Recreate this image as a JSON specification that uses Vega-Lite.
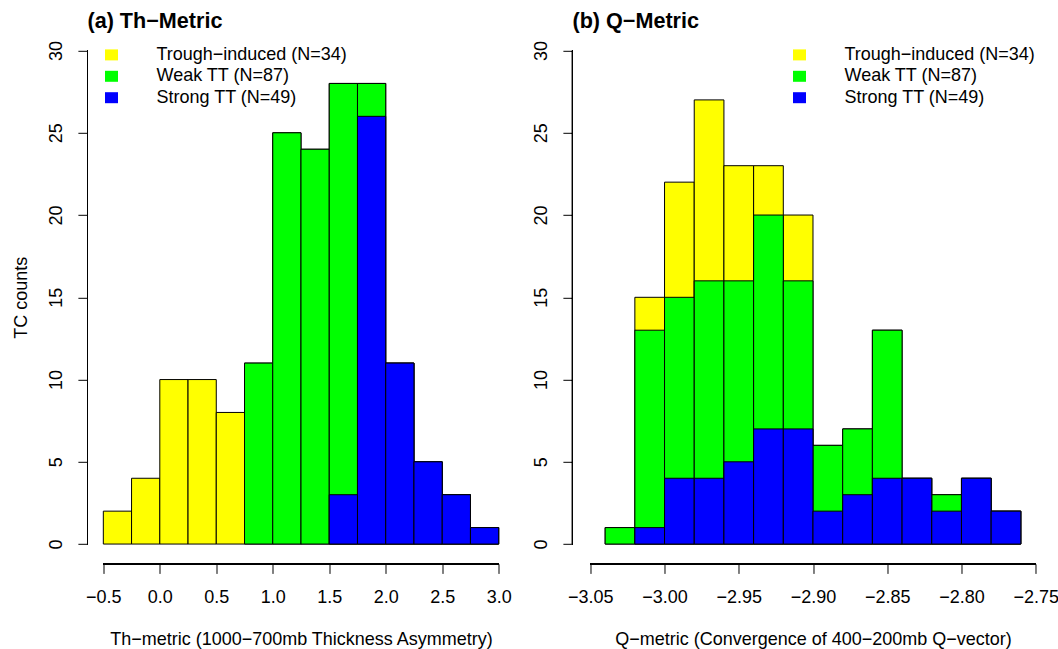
{
  "$schema": "https://vega.github.io/schema/vega-lite/v6.json",
  "padding": {"left": 12.5, "top": 10.8, "right": 0, "bottom": 0},
  "background": "white",
  "bounds": "flush",
  "spacing": 58,
  "config": {
    "font": "Liberation Sans",
    "view": {"stroke": null},
    "axis": {"labelFont": "Liberation Sans", "titleFont": "Liberation Sans", "labelFontSize": 18, "titleFontSize": 18, "titleFontWeight": "normal", "labelColor": "#000", "titleColor": "#000", "tickColor": "#000", "tickWidth": 1, "grid": false, "domain": false, "tickSize": 9.6},
    "legend": {"labelFont": "Liberation Sans", "labelFontSize": 18, "labelColor": "#000", "labelLimit": 0}
  },
  "datasets": {
    "th": [
      {"lo": -0.5, "hi": -0.25, "group": "Trough−induced (N=34)", "count": 2},
      {"lo": -0.25, "hi": 0.0, "group": "Trough−induced (N=34)", "count": 4},
      {"lo": 0.0, "hi": 0.25, "group": "Trough−induced (N=34)", "count": 10},
      {"lo": 0.25, "hi": 0.5, "group": "Trough−induced (N=34)", "count": 10},
      {"lo": 0.5, "hi": 0.75, "group": "Trough−induced (N=34)", "count": 8},
      {"lo": 0.75, "hi": 1.0, "group": "Trough−induced (N=34)", "count": 11},
      {"lo": 1.0, "hi": 1.25, "group": "Trough−induced (N=34)", "count": 25},
      {"lo": 1.25, "hi": 1.5, "group": "Trough−induced (N=34)", "count": 24},
      {"lo": 1.5, "hi": 1.75, "group": "Trough−induced (N=34)", "count": 28},
      {"lo": 1.75, "hi": 2.0, "group": "Trough−induced (N=34)", "count": 28},
      {"lo": 2.0, "hi": 2.25, "group": "Trough−induced (N=34)", "count": 11},
      {"lo": 2.25, "hi": 2.5, "group": "Trough−induced (N=34)", "count": 5},
      {"lo": 2.5, "hi": 2.75, "group": "Trough−induced (N=34)", "count": 3},
      {"lo": 2.75, "hi": 3.0, "group": "Trough−induced (N=34)", "count": 1},
      {"lo": 0.75, "hi": 1.0, "group": "Weak TT (N=87)", "count": 11},
      {"lo": 1.0, "hi": 1.25, "group": "Weak TT (N=87)", "count": 25},
      {"lo": 1.25, "hi": 1.5, "group": "Weak TT (N=87)", "count": 24},
      {"lo": 1.5, "hi": 1.75, "group": "Weak TT (N=87)", "count": 28},
      {"lo": 1.75, "hi": 2.0, "group": "Weak TT (N=87)", "count": 28},
      {"lo": 2.0, "hi": 2.25, "group": "Weak TT (N=87)", "count": 11},
      {"lo": 2.25, "hi": 2.5, "group": "Weak TT (N=87)", "count": 5},
      {"lo": 2.5, "hi": 2.75, "group": "Weak TT (N=87)", "count": 3},
      {"lo": 2.75, "hi": 3.0, "group": "Weak TT (N=87)", "count": 1},
      {"lo": 1.5, "hi": 1.75, "group": "Strong TT (N=49)", "count": 3},
      {"lo": 1.75, "hi": 2.0, "group": "Strong TT (N=49)", "count": 26},
      {"lo": 2.0, "hi": 2.25, "group": "Strong TT (N=49)", "count": 11},
      {"lo": 2.25, "hi": 2.5, "group": "Strong TT (N=49)", "count": 5},
      {"lo": 2.5, "hi": 2.75, "group": "Strong TT (N=49)", "count": 3},
      {"lo": 2.75, "hi": 3.0, "group": "Strong TT (N=49)", "count": 1}
    ],
    "q": [
      {"lo": -3.04, "hi": -3.02, "group": "Trough−induced (N=34)", "count": 1},
      {"lo": -3.02, "hi": -3.00, "group": "Trough−induced (N=34)", "count": 15},
      {"lo": -3.00, "hi": -2.98, "group": "Trough−induced (N=34)", "count": 22},
      {"lo": -2.98, "hi": -2.96, "group": "Trough−induced (N=34)", "count": 27},
      {"lo": -2.96, "hi": -2.94, "group": "Trough−induced (N=34)", "count": 23},
      {"lo": -2.94, "hi": -2.92, "group": "Trough−induced (N=34)", "count": 23},
      {"lo": -2.92, "hi": -2.90, "group": "Trough−induced (N=34)", "count": 20},
      {"lo": -2.90, "hi": -2.88, "group": "Trough−induced (N=34)", "count": 6},
      {"lo": -2.88, "hi": -2.86, "group": "Trough−induced (N=34)", "count": 7},
      {"lo": -2.86, "hi": -2.84, "group": "Trough−induced (N=34)", "count": 13},
      {"lo": -2.84, "hi": -2.82, "group": "Trough−induced (N=34)", "count": 4},
      {"lo": -2.82, "hi": -2.80, "group": "Trough−induced (N=34)", "count": 3},
      {"lo": -2.80, "hi": -2.78, "group": "Trough−induced (N=34)", "count": 4},
      {"lo": -2.78, "hi": -2.76, "group": "Trough−induced (N=34)", "count": 2},
      {"lo": -3.04, "hi": -3.02, "group": "Weak TT (N=87)", "count": 1},
      {"lo": -3.02, "hi": -3.00, "group": "Weak TT (N=87)", "count": 13},
      {"lo": -3.00, "hi": -2.98, "group": "Weak TT (N=87)", "count": 15},
      {"lo": -2.98, "hi": -2.96, "group": "Weak TT (N=87)", "count": 16},
      {"lo": -2.96, "hi": -2.94, "group": "Weak TT (N=87)", "count": 16},
      {"lo": -2.94, "hi": -2.92, "group": "Weak TT (N=87)", "count": 20},
      {"lo": -2.92, "hi": -2.90, "group": "Weak TT (N=87)", "count": 16},
      {"lo": -2.90, "hi": -2.88, "group": "Weak TT (N=87)", "count": 6},
      {"lo": -2.88, "hi": -2.86, "group": "Weak TT (N=87)", "count": 7},
      {"lo": -2.86, "hi": -2.84, "group": "Weak TT (N=87)", "count": 13},
      {"lo": -2.84, "hi": -2.82, "group": "Weak TT (N=87)", "count": 4},
      {"lo": -2.82, "hi": -2.80, "group": "Weak TT (N=87)", "count": 3},
      {"lo": -2.80, "hi": -2.78, "group": "Weak TT (N=87)", "count": 4},
      {"lo": -2.78, "hi": -2.76, "group": "Weak TT (N=87)", "count": 2},
      {"lo": -3.02, "hi": -3.00, "group": "Strong TT (N=49)", "count": 1},
      {"lo": -3.00, "hi": -2.98, "group": "Strong TT (N=49)", "count": 4},
      {"lo": -2.98, "hi": -2.96, "group": "Strong TT (N=49)", "count": 4},
      {"lo": -2.96, "hi": -2.94, "group": "Strong TT (N=49)", "count": 5},
      {"lo": -2.94, "hi": -2.92, "group": "Strong TT (N=49)", "count": 7},
      {"lo": -2.92, "hi": -2.90, "group": "Strong TT (N=49)", "count": 7},
      {"lo": -2.90, "hi": -2.88, "group": "Strong TT (N=49)", "count": 2},
      {"lo": -2.88, "hi": -2.86, "group": "Strong TT (N=49)", "count": 3},
      {"lo": -2.86, "hi": -2.84, "group": "Strong TT (N=49)", "count": 4},
      {"lo": -2.84, "hi": -2.82, "group": "Strong TT (N=49)", "count": 4},
      {"lo": -2.82, "hi": -2.80, "group": "Strong TT (N=49)", "count": 2},
      {"lo": -2.80, "hi": -2.78, "group": "Strong TT (N=49)", "count": 4},
      {"lo": -2.78, "hi": -2.76, "group": "Strong TT (N=49)", "count": 2}
    ]
  },
  "resolve": {"legend": {"color": "independent"}, "scale": {"x": "independent"}},
  "hconcat": [
    {
      "width": 427,
      "height": 533,
      "title": {"text": "(a) Th−Metric", "anchor": "start", "frame": "group", "fontSize": 21.6, "fontWeight": "bold", "font": "Liberation Sans", "baseline": "alphabetic", "offset": -18.8, "color": "#000"},
      "data": {"name": "th"},
      "layer": [
        {
          "mark": {"type": "bar", "stroke": "#000", "strokeWidth": 1},
          "encoding": {
            "x": {"field": "lo", "type": "quantitative", "scale": {"domain": [-0.64, 3.14], "nice": false, "zero": false},
              "axis": {"values": [-0.5, 0, 0.5, 1, 1.5, 2, 2.5, 3], "format": ".1f", "labelBaseline": "alphabetic", "labelPadding": 29.4, "title": "Th−metric (1000−700mb Thickness Asymmetry)", "titleBaseline": "alphabetic", "titleY": 81}},
            "x2": {"field": "hi"},
            "y": {"field": "count", "type": "quantitative", "stack": null, "scale": {"domain": [-1.2, 31.2], "nice": false, "zero": false},
              "axis": {"values": [0, 5, 10, 15, 20, 25, 30], "labelAngle": -90, "labelAlign": "center", "labelBaseline": "alphabetic", "labelPadding": 16, "title": "TC counts", "titleAngle": -90, "titleAlign": "center", "titleBaseline": "alphabetic", "titleX": -61, "titleY": 266.4}},
            "y2": {"datum": 0},
            "color": {"field": "group", "type": "nominal",
              "scale": {"domain": ["Trough−induced (N=34)", "Weak TT (N=87)", "Strong TT (N=49)"], "range": ["#FFFF00", "#00FF00", "#0000FF"]},
              "legend": {"title": null, "orient": "none", "legendX": 15, "legendY": 15.1, "padding": 0, "symbolType": "M-1,-0.846H1V0.846H-1Z", "symbolSize": 169, "symbolStrokeWidth": 0, "labelOffset": 36, "rowPadding": 3.4}}
          }
        },
        {
          "mark": {"type": "rule", "color": "#000", "strokeWidth": 1},
          "encoding": {"x": {"datum": -0.5}, "x2": {"datum": 3.0}, "y": {"datum": -1.2}}
        },
        {
          "mark": {"type": "rule", "color": "#000", "strokeWidth": 1},
          "encoding": {"x": {"datum": -0.64}, "y": {"datum": 0}, "y2": {"datum": 30}}
        }
      ]
    },
    {
      "width": 481,
      "height": 533,
      "title": {"text": "(b) Q−Metric", "anchor": "start", "frame": "group", "fontSize": 21.6, "fontWeight": "bold", "font": "Liberation Sans", "baseline": "alphabetic", "offset": -18.8, "color": "#000"},
      "data": {"name": "q"},
      "layer": [
        {
          "mark": {"type": "bar", "stroke": "#000", "strokeWidth": 1},
          "encoding": {
            "x": {"field": "lo", "type": "quantitative", "scale": {"domain": [-3.062, -2.738], "nice": false, "zero": false},
              "axis": {"values": [-3.05, -3.0, -2.95, -2.9, -2.85, -2.8, -2.75], "format": ".2f", "labelBaseline": "alphabetic", "labelPadding": 29.4, "title": "Q−metric (Convergence of 400−200mb Q−vector)", "titleBaseline": "alphabetic", "titleY": 81}},
            "x2": {"field": "hi"},
            "y": {"field": "count", "type": "quantitative", "stack": null, "scale": {"domain": [-1.2, 31.2], "nice": false, "zero": false},
              "axis": {"values": [0, 5, 10, 15, 20, 25, 30], "labelAngle": -90, "labelAlign": "center", "labelBaseline": "alphabetic", "labelPadding": 16, "title": null}},
            "y2": {"datum": 0},
            "color": {"field": "group", "type": "nominal",
              "scale": {"domain": ["Trough−induced (N=34)", "Weak TT (N=87)", "Strong TT (N=49)"], "range": ["#FFFF00", "#00FF00", "#0000FF"]},
              "legend": {"title": null, "orient": "none", "legendX": 218, "legendY": 15.1, "padding": 0, "symbolType": "M-1,-0.846H1V0.846H-1Z", "symbolSize": 169, "symbolStrokeWidth": 0, "labelOffset": 36, "rowPadding": 3.4}}
          }
        },
        {
          "mark": {"type": "rule", "color": "#000", "strokeWidth": 1},
          "encoding": {"x": {"datum": -3.05}, "x2": {"datum": -2.75}, "y": {"datum": -1.2}}
        },
        {
          "mark": {"type": "rule", "color": "#000", "strokeWidth": 1},
          "encoding": {"x": {"datum": -3.062}, "y": {"datum": 0}, "y2": {"datum": 30}}
        }
      ]
    }
  ]
}
